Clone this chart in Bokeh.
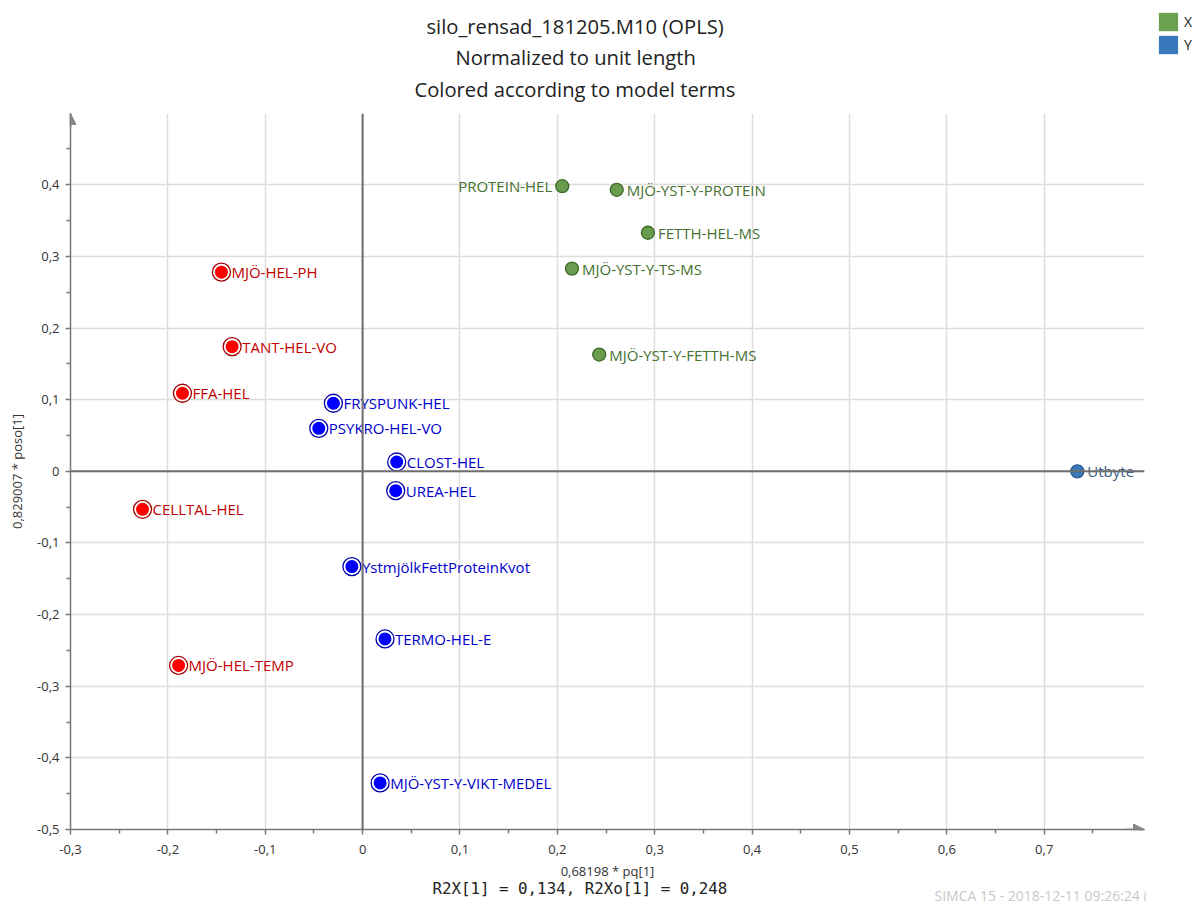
import numpy as np
from bokeh.plotting import figure
from bokeh.layouts import row, column
from bokeh.models import (
    ColumnDataSource,
    FixedTicker,
    CustomJSTickFormatter,
    Span,
    Arrow,
    NormalHead,
    Title,
    Legend,
    LegendItem,
)
from bokeh.core.properties import value
from bokeh.embed import file_html
from bokeh.resources import INLINE

FONT = "Open Sans"

# X terms (green)
green_names = ["PROTEIN-HEL", "MJÖ-YST-Y-PROTEIN", "FETTH-HEL-MS", "MJÖ-YST-Y-TS-MS", "MJÖ-YST-Y-FETTH-MS"]
green_x = [0.205, 0.261, 0.293, 0.215, 0.243]
green_y = [0.398, 0.393, 0.333, 0.283, 0.163]

# Y term (blue)
resp_names = ["Utbyte"]
resp_x = [0.734]
resp_y = [0.0]

# marked X terms, red
red_names = ["MJÖ-HEL-PH", "TANT-HEL-VO", "FFA-HEL", "CELLTAL-HEL", "MJÖ-HEL-TEMP"]
red_x = [-0.145, -0.134, -0.185, -0.226, -0.189]
red_y = [0.278, 0.174, 0.109, -0.053, -0.271]

# marked X terms, blue
blue_names = ["FRYSPUNK-HEL", "PSYKRO-HEL-VO", "CLOST-HEL", "UREA-HEL",
              "YstmjölkFettProteinKvot", "TERMO-HEL-E", "MJÖ-YST-Y-VIKT-MEDEL"]
blue_x = [-0.030, -0.045, 0.035, 0.034, -0.011, 0.023, 0.018]
blue_y = [0.095, 0.060, 0.013, -0.027, -0.133, -0.234, -0.435]

x_ticks = [-0.3, -0.2, -0.1, 0.0, 0.1, 0.2, 0.3, 0.4, 0.5, 0.6, 0.7]
y_ticks = [-0.5, -0.4, -0.3, -0.2, -0.1, 0.0, 0.1, 0.2, 0.3, 0.4]

title_lines = ["silo_rensad_181205.M10 (OPLS)", "Normalized to unit length",
               "Colored according to model terms"]
x_label = "0,68198 * pq[1]"
y_label = "0,829007 * poso[1]"
footer = "R2X[1] = 0,134, R2Xo[1] = 0,248"
stamp = "SIMCA 15 - 2018-12-11 09:26:24 (UTC+1)"
key_labels = ["X", "Y"]

LEFT_LABELS = {"PROTEIN-HEL"}

X_MIN, X_MAX = -0.3, 0.803
Y_MIN, Y_MAX = -0.5, 0.4995

p = figure(
    width=1146,
    height=901,
    x_range=(X_MIN, X_MAX),
    y_range=(Y_MIN, Y_MAX),
    output_backend="svg",
    toolbar_location=None,
    min_border_left=70,
    min_border_right=2,
    min_border_top=113,
    min_border_bottom=72,
)
p.outline_line_color = None

fmt = CustomJSTickFormatter(code="return Math.abs(tick) < 1e-9 ? '0' : tick.toFixed(1).replace('.', ',')")
x_minor = [t + 0.05 for t in x_ticks]
y_minor = [t + 0.05 for t in y_ticks]
p.xaxis.ticker = FixedTicker(ticks=x_ticks, minor_ticks=x_minor)
p.yaxis.ticker = FixedTicker(ticks=y_ticks, minor_ticks=y_minor)

for ax in (p.xaxis, p.yaxis):
    ax.formatter = fmt
    ax.axis_line_color = "#777777"
    ax.axis_line_width = 1.5
    ax.major_tick_line_color = "#777777"
    ax.minor_tick_line_color = "#777777"
    ax.major_tick_line_width = 1.5
    ax.minor_tick_line_width = 1.5
    ax.major_tick_out = 5
    ax.major_tick_in = 0
    ax.minor_tick_out = 4
    ax.minor_tick_in = 0
    ax.major_label_text_font = FONT
    ax.major_label_text_font_size = "13px"
    ax.major_label_text_color = "#333333"
    ax.axis_label_text_font = FONT
    ax.axis_label_text_font_size = "13px"
    ax.axis_label_text_font_style = "normal"
    ax.axis_label_text_color = "#333333"

p.xaxis.axis_label = x_label
p.yaxis.axis_label = y_label
p.xaxis.major_label_standoff = 10
p.yaxis.major_label_standoff = 6
p.xaxis.axis_label_standoff = 5
p.yaxis.axis_label_standoff = 8

p.grid.grid_line_color = "#dddddd"
p.grid.grid_line_width = 1.5

p.add_layout(Span(location=0, dimension="width", line_color="#6e6e6e", line_width=2))
p.add_layout(Span(location=0, dimension="height", line_color="#6e6e6e", line_width=2))

# arrow heads at the axis ends
p.add_layout(Arrow(end=NormalHead(size=11, fill_color="#888888", line_color="#888888"),
                   x_start=X_MAX - 0.02, y_start=Y_MIN, x_end=X_MAX, y_end=Y_MIN,
                   line_color="#777777", line_width=1.5))
p.add_layout(Arrow(end=NormalHead(size=11, fill_color="#888888", line_color="#888888"),
                   x_start=X_MIN, y_start=Y_MAX - 0.02, x_end=X_MIN, y_end=Y_MAX,
                   line_color="#777777", line_width=1.5))


def add_group(names, xs, ys, fill, ring, text_color, marked):
    right = [i for i, n in enumerate(names) if n not in LEFT_LABELS]
    left = [i for i, n in enumerate(names) if n in LEFT_LABELS]
    src = ColumnDataSource(dict(x=xs, y=ys, name=names))
    if marked:
        p.scatter("x", "y", source=src, size=18, fill_color="white",
                  line_color=ring, line_width=1.3)
        p.scatter("x", "y", source=src, size=13, fill_color=fill, line_color=None)
    else:
        p.scatter("x", "y", source=src, size=13, fill_color=fill,
                  line_color=ring, line_width=1.3)
    for idx, align, off in ((right, "left", 10), (left, "right", -10)):
        if not idx:
            continue
        tsrc = ColumnDataSource(dict(x=[xs[i] for i in idx], y=[ys[i] for i in idx],
                                     name=[names[i] for i in idx]))
        p.text("x", "y", text="name", source=tsrc, x_offset=off,
               text_align=align, text_baseline="middle",
               text_font=value(FONT), text_font_size="15px", text_color=text_color)


add_group(green_names, green_x, green_y, "#6a9c50", "#3d6a2a", "#45702f", False)
add_group(resp_names, resp_x, resp_y, "#3a78b8", "#2a5c92", "#3c5c84", False)
add_group(red_names, red_x, red_y, "#ff0000", "#a00000", "#c00000", True)
add_group(blue_names, blue_x, blue_y, "#0000ff", "#0000a8", "#0000cc", True)

# title lines, innermost first (text sits in the middle of each title box)
title_offsets = [356, 385, 344]
title_standoffs = [18.8, -17.2, 20.8]
for text, off, so in reversed(list(zip(title_lines, title_offsets, title_standoffs))):
    p.add_layout(Title(text=text, align="left", offset=off, standoff=so,
                       text_font=FONT, text_font_size="20.2px", text_font_style="normal",
                       text_color="#222222"), "above")

p.add_layout(Title(text=footer, align="left", offset=362, standoff=-8.8, vertical_align="middle",
                   text_font="DejaVu Sans Mono", text_font_size="15.8px", text_font_style="normal",
                   text_color="#222222"), "below")
p.add_layout(Title(text=stamp, align="left", offset=864, standoff=-19, vertical_align="middle",
                   text_font=FONT, text_font_size="14px", text_font_style="normal",
                   text_color="#c8c8c8"), "below")

# colour key in its own narrow strip at the top right
key = figure(
    width=51,
    height=901,
    x_range=(0, 1),
    y_range=(0, 1),
    output_backend="svg",
    toolbar_location=None,
    min_border=0,
)
key.axis.visible = False
key.grid.visible = False
key.outline_line_color = None

sw_x = key.quad(left=[np.nan], right=[np.nan], top=[np.nan], bottom=[np.nan],
                fill_color="#6aa150", line_color=None)
sw_y = key.quad(left=[np.nan], right=[np.nan], top=[np.nan], bottom=[np.nan],
                fill_color="#3a78bc", line_color=None)
legend = Legend(
    items=[LegendItem(label=key_labels[0], renderers=[sw_x]),
           LegendItem(label=key_labels[1], renderers=[sw_y])],
    location="top_left",
    padding=0,
    margin=10,
    spacing=0,
    glyph_width=24,
    glyph_height=23,
    label_standoff=4,
    label_text_font=FONT,
    label_text_font_size="14px",
    label_text_color="#222222",
    background_fill_alpha=0,
    border_line_color=None,
)
key.add_layout(legend)

# the key sits in its own column so its frame is not lined up with the main plot
layout = row(p, column(key))

open("out.html", "w").write(file_html(layout, INLINE))
